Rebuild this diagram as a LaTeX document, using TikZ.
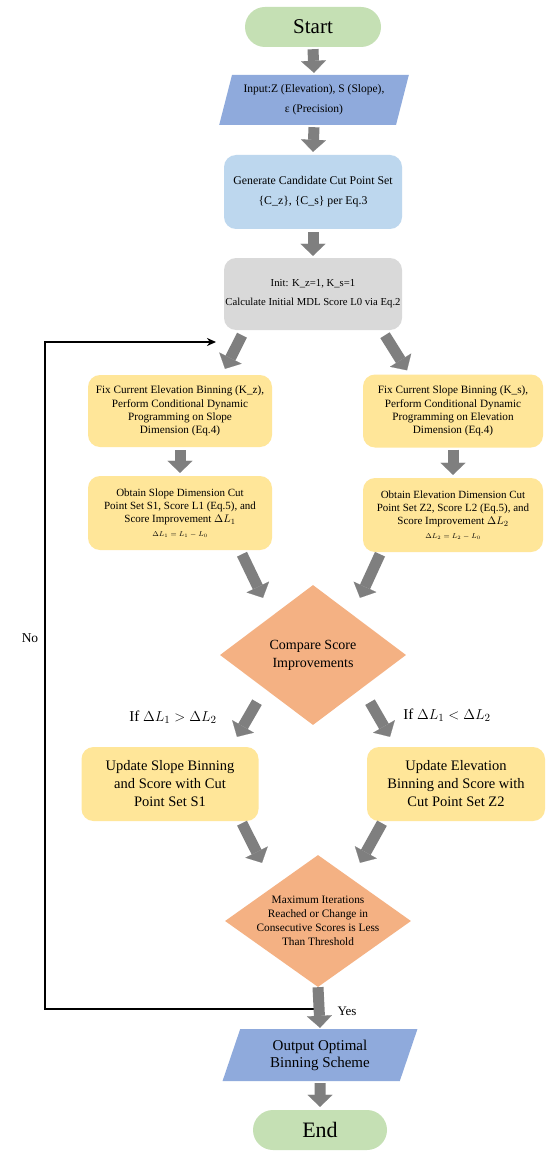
\documentclass[tikz,border=0pt]{standalone}
\usepackage{fontspec}
\setmainfont{Liberation Serif}
\usetikzlibrary{shapes.geometric,arrows.meta,calc}
\definecolor{cgreen}{HTML}{C5E0B4}
\definecolor{cblue}{HTML}{8FAADC}
\definecolor{clblue}{HTML}{BDD7EE}
\definecolor{cgray}{HTML}{D9D9D9}
\definecolor{cyellow}{HTML}{FFE699}
\definecolor{corange}{HTML}{F4B183}
\definecolor{carrow}{HTML}{7F7F7F}
\begin{document}
\begin{tikzpicture}[x=1pt,y=-1pt,
  box/.style={rectangle, rounded corners=12pt, align=center, inner sep=1pt},
  pill/.style={rectangle, rounded corners=20pt, fill=cgreen, align=center, font=\fontsize{21}{24}\selectfont},
  para/.style={trapezium, trapezium left angle=71, trapezium right angle=109, trapezium stretches=true, fill=cblue, align=center, inner sep=1pt},
  dia/.style={diamond, fill=corange, inner sep=0pt},
  diatext/.style={align=center, inner sep=0pt},
  blk/.style={draw=carrow, line width=11pt, -{Triangle[width=25pt,length=12pt,line width=0.1pt]}},
  fb/.style={draw=black, line width=1.6pt, -{Stealth[length=9pt,width=8pt]}},
  lbl/.style={inner sep=0pt}
]
\fill[white] (0,0) rectangle (550,1158);
\useasboundingbox (0,0) rectangle (550,1158);

% nodes
\node[pill, minimum width=136pt, minimum height=40pt] (start) at (313,27) {Start};
\node[para, minimum width=190pt, minimum height=50pt, font=\fontsize{11.5}{20}\selectfont] (input) at (314,100) {Input:Z (Elevation), S (Slope),\\ ε (Precision)};
\node[box, fill=clblue, minimum width=178pt, minimum height=74pt, font=\fontsize{11.8}{20}\selectfont] (gen) at (313,192) {Generate Candidate Cut Point Set\\ \{C\_z\}, \{C\_s\} per Eq.3};
\node[box, fill=cgray, minimum width=178pt, minimum height=72pt, font=\fontsize{10.7}{19}\selectfont] (init) at (313,294) {{\fontsize{10.7}{19}\selectfont Init: K\_z=1, K\_s=1}\\ Calculate Initial MDL Score L0 via Eq.2};

\node[box, fill=cyellow, minimum width=184pt, minimum height=72pt, font=\fontsize{11.2}{13.3}\selectfont] (fix1) at (180,411) {Fix Current Elevation Binning (K\_z),\\ Perform Conditional Dynamic\\ Programming on Slope\\ Dimension (Eq.4)};
\node[box, fill=cyellow, minimum width=180pt, minimum height=73pt, font=\fontsize{11.2}{13.3}\selectfont] (fix2) at (453,411) {Fix Current Slope Binning (K\_s),\\ Perform Conditional Dynamic\\ Programming on Elevation\\ Dimension (Eq.4)};

\node[box, fill=cyellow, minimum width=184pt, minimum height=74pt, font=\fontsize{11}{13.3}\selectfont] (obt1) at (180,513) {Obtain Slope Dimension Cut\\ Point Set S1, Score L1 (Eq.5), and\\ Score Improvement $\Delta L_1$\\ {\fontsize{7.5}{9}\selectfont $\Delta L_1 = L_1 - L_0$}};
\node[box, fill=cyellow, minimum width=180pt, minimum height=74pt, font=\fontsize{11}{13.3}\selectfont] (obt2) at (453,515) {Obtain Elevation Dimension Cut\\ Point Set Z2, Score L2 (Eq.5), and\\ Score Improvement $\Delta L_2$\\ {\fontsize{7.5}{9}\selectfont $\Delta L_2 = L_2 - L_0$}};

\node[dia, minimum width=186pt, minimum height=140pt] (cmp) at (313,655) {};
\node[diatext, font=\fontsize{14}{18}\selectfont] (cmpt) at (cmp.center) {Compare Score\\ Improvements};

\node[lbl, font=\fontsize{15}{18}\selectfont] (if1) at (173,717) {If $\Delta L_1 > \Delta L_2$};
\node[lbl, font=\fontsize{15}{18}\selectfont] (if2) at (447,715) {If $\Delta L_1 < \Delta L_2$};

\node[box, fill=cyellow, minimum width=177pt, minimum height=74pt, font=\fontsize{14.5}{18}\selectfont] (upd1) at (170,784) {Update Slope Binning\\ and Score with Cut\\ Point Set S1};
\node[box, fill=cyellow, minimum width=178pt, minimum height=74pt, font=\fontsize{14.5}{18}\selectfont] (upd2) at (456,784) {Update Elevation\\ Binning and Score with\\ Cut Point Set Z2};

\node[dia, minimum width=186pt, minimum height=132pt] (max) at (318,921) {};
\node[diatext, font=\fontsize{11.3}{14}\selectfont] (maxt) at (max.center) {Maximum Iterations\\ Reached or Change in\\ Consecutive Scores is Less\\ Than Threshold};

\node[para, minimum width=195pt, minimum height=52pt, font=\fontsize{15}{17}\selectfont] (output) at (320,1055) {Output Optimal\\ Binning Scheme};
\node[pill, minimum width=134pt, minimum height=40pt, font=\fontsize{22}{24}\selectfont] (end) at (320,1130) {End};

\node[lbl, font=\fontsize{13}{15}\selectfont] (yes) at (347,1011) {Yes};
\node[lbl, font=\fontsize{13.5}{15}\selectfont] (no) at (30,638) {No};

% feedback loop
\coordinate (fbs) at ($(max.south)+(0,22)$);
\coordinate (fbc1) at ($(fbs)+(-273,0)$);
\coordinate (fbc2) at (45,342);
\coordinate (fbe) at (216,342);
\draw[fb] (fbs) -- (fbc1) -- (fbc2) -- (fbe);

% block arrows
\draw[blk] ($(start.south)+(0,2)$) -- ($(input.north)+(0,-2)$);
\draw[blk] ($(input.south)+(0,2)$) -- ($(gen.north)+(0,-3)$);
\draw[blk] ($(gen.south)+(0,3)$) -- ($(init.north)+(0,-2)$);
\draw[blk] ($(init.south)+(-71,5)$) -- ($(fix1.north)+(45,-6)$);
\draw[blk] ($(init.south)+(72,5)$) -- ($(fix2.north)+(-46,-4)$);
\draw[blk] ($(fix1.south)+(0,3)$) -- ($(obt1.north)+(0,-3)$);
\draw[blk] ($(fix2.south)+(0,2)$) -- ($(obt2.north)+(0,-3)$);
\draw[blk] ($(obt1.south)+(62,4)$) -- ($(cmp.north)+(-50,13)$);
\draw[blk] ($(obt2.south)+(-73,2)$) -- ($(cmp.north)+(47,13)$);
\draw[blk] ($(cmp.south)+(-56,-23)$) -- ($(upd1.north)+(67,-10)$);
\draw[blk] ($(cmp.south)+(57,-23)$) -- ($(upd2.north)+(-66,-10)$);
\draw[blk] ($(upd1.south)+(72,2)$) -- ($(max.north)+(-56,8)$);
\draw[blk] ($(upd2.south)+(-74,2)$) -- ($(max.north)+(42,8)$);
\draw[blk] (max.south) -- ($(output.north)+(0,-1)$);
\draw[blk] ($(output.south)+(0,2)$) -- ($(end.north)+(0,-3)$);
\end{tikzpicture}
\end{document}
